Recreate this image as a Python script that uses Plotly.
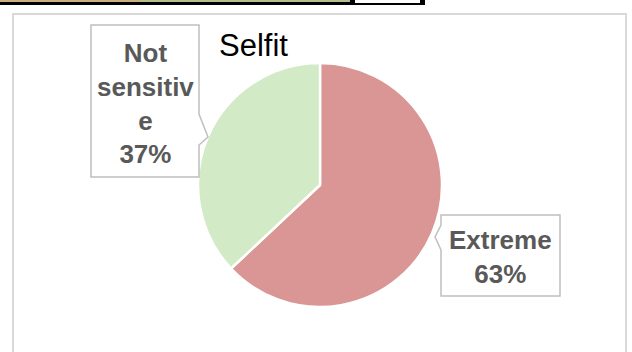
import plotly.graph_objects as go

W, H = 632, 352

labels = ["Extreme", "Not sensitive"]
values = [63, 37]
colours = ["#DA9694", "#D2EAC5"]
title = "Selfit"


def px(x):
    return x / W


def py(y):
    return 1 - y / H


def wrap_label(text, width=8):
    # Excel-style: break on spaces, then chop words that are too long
    out = []
    for word in text.split():
        while len(word) > width:
            out.append(word[:width])
            word = word[width:]
        out.append(word)
    return out


total = sum(values)
label_text = []
for lab, val in zip(labels, values):
    label_text.append("<br>".join(wrap_label(lab) + [f"{val / total * 100:.0f}%"]))

fig = go.Figure(go.Pie(
    labels=labels,
    values=values,
    sort=False,
    direction="clockwise",
    rotation=0,
    textinfo="none",
    hoverinfo="label+percent",
    marker=dict(colors=colours, line=dict(color="white", width=2.5)),
    domain=dict(x=[px(198), px(442)], y=[py(307), py(63)]),
    showlegend=False,
))

shapes = [
    # chart frame
    dict(type="rect", xref="paper", yref="paper", x0=px(13), x1=px(626), y0=py(360), y1=py(14),
         line=dict(color="#D9D9D9", width=2), fillcolor="rgba(0,0,0,0)"),
    # bit of table row above the chart
    dict(type="rect", xref="paper", yref="paper", x0=0, x1=px(425), y0=py(5), y1=1,
         line=dict(width=0), fillcolor="#000000"),
    dict(type="rect", xref="paper", yref="paper", x0=0, x1=px(140), y0=py(2), y1=1,
         line=dict(width=0), fillcolor="#C9AD7F"),
    dict(type="rect", xref="paper", yref="paper", x0=px(140), x1=px(350), y0=py(2), y1=1,
         line=dict(width=0), fillcolor="#B8BC8C"),
    dict(type="rect", xref="paper", yref="paper", x0=px(355), x1=px(420), y0=py(3), y1=1,
         line=dict(width=0), fillcolor="#FFFFFF"),
]

# callout boxes
left_box = [(91, 25), (199, 25), (199, 114), (208, 137), (199, 145), (199, 177), (91, 177)]
right_box = [(441, 215), (560, 215), (560, 296), (441, 296), (441, 250), (435, 237), (441, 225)]
for pts in (left_box, right_box):
    path = "M " + " L ".join(f"{px(x)},{py(y)}" for x, y in pts) + " Z"
    shapes.append(dict(type="path", xref="paper", yref="paper", path=path,
                       line=dict(color="#BFBFBF", width=1.5), fillcolor="white"))

annotations = [
    dict(text=title, x=px(254), y=py(46), xref="paper", yref="paper", showarrow=False,
         xanchor="center", yanchor="middle", font=dict(size=31, color="#000000")),
    dict(text=label_text[0], x=px(500), y=py(257), xref="paper", yref="paper", showarrow=False,
         xanchor="center", yanchor="middle", font=dict(size=26, color="#595959", weight="bold")),
    dict(text=label_text[1], x=px(145), y=py(104), xref="paper", yref="paper", showarrow=False,
         xanchor="center", yanchor="middle", font=dict(size=26, color="#595959", weight="bold")),
]

fig.update_layout(
    width=W, height=H,
    margin=dict(l=0, r=0, t=0, b=0),
    paper_bgcolor="white",
    plot_bgcolor="white",
    font_family="Liberation Sans",
    shapes=shapes,
    annotations=annotations,
)
fig.update_annotations(font_family="Liberation Sans")

fig.write_html("out.html", config={"displayModeBar": False},
               post_script="document.body.style.margin='0';")
